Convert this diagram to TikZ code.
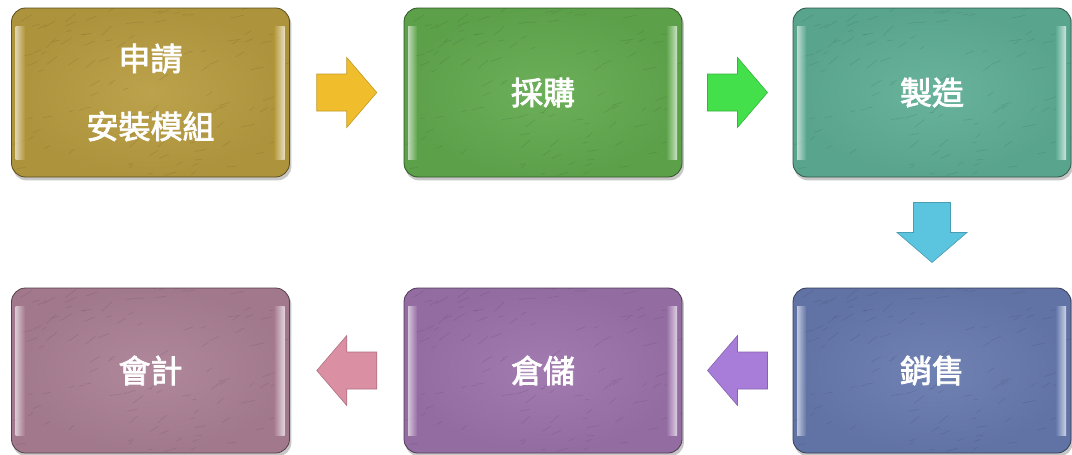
\documentclass[tikz,border=0pt]{standalone}
\usepackage{fontspec}
\newfontfamily\cjk[FakeBold=2.4]{Noto Sans CJK TC}
\usetikzlibrary{calc}
\pgfdeclarelayer{bg}
\pgfsetlayers{bg,main}
\definecolor{cA}{HTML}{B89C40}
\definecolor{cB}{HTML}{63AA4F}
\definecolor{cC}{HTML}{5FAE95}
\definecolor{cD}{HTML}{677AAE}
\definecolor{cE}{HTML}{9C73AB}
\definecolor{cF}{HTML}{AB8095}
\definecolor{aA}{HTML}{F0BE2C}
\definecolor{aB}{HTML}{44E04C}
\definecolor{aC}{HTML}{5BC4DE}
\definecolor{aD}{HTML}{A77DD9}
\definecolor{aE}{HTML}{DB8FA3}
\tikzset{
  procbox/.style={rectangle, rounded corners=14pt, minimum width=278pt,
    inner color=#1!94!white, outer color=#1!94!black, draw=#1!50!black, line width=0.8pt,
    text=white, font=\cjk\fontsize{32}{68}\selectfont, align=center, inner sep=0pt,
    path picture={
      \pgfmathsetseed{7}
      \foreach \k in {1,...,110}{
        \pgfmathsetmacro{\rx}{rnd*280}
        \pgfmathsetmacro{\ry}{rnd*170}
        \pgfmathsetmacro{\ra}{5+rnd*40}
        \pgfmathsetmacro{\rl}{4+rnd*10}
        \draw[#1!55!black, opacity=.22, line width=.6pt]
          ($(path picture bounding box.south west)+(\rx pt,\ry pt)$) -- ++(\ra:\rl pt);
      }
      \path[sharp corners, draw=none, left color=white, right color=#1, opacity=.6]
        ($(path picture bounding box.south west)+(4pt,18pt)$) rectangle
        ($(path picture bounding box.north west)+(13pt,-18pt)$);
      \path[sharp corners, draw=none, left color=#1, right color=#1!25!white, opacity=.9]
        ($(path picture bounding box.south east)+(-15pt,18pt)$) rectangle
        ($(path picture bounding box.north east)+(-5pt,-18pt)$);
    }},
  toprow/.style={minimum height=169pt},
  botrow/.style={minimum height=165pt},
  boxshadow/.style={fill=black, opacity=0.22, rounded corners=14pt},
  barrow/.pic={\path[pic actions] (-30,-18.5) -- (0,-18.5) -- (0,-35) -- (30,0) -- (0,35) -- (0,18.5) -- (-30,18.5) -- cycle;},
  arrowfill/.style={fill=#1, draw=#1!80!black, line width=0.6pt}
}
\begin{document}
\begin{tikzpicture}[x=1pt,y=-1pt]
\useasboundingbox (0,0) rectangle (1072,455);
\node[procbox=cA, toprow] (b1) at (150.5,92.5) {申請\\安裝模組};
\node[procbox=cB, toprow] (b2) at (543,92.5) {採購};
\node[procbox=cC, toprow] (b3) at (932,92.5) {製造};
\node[procbox=cD, botrow] (b4) at (932,370.5) {銷售};
\node[procbox=cE, botrow] (b5) at (543,370.5) {倉儲};
\node[procbox=cF, botrow] (b6) at (150.5,370.5) {會計};
\begin{pgfonlayer}{bg}
\foreach \b in {b1,b2,b3,b4,b5,b6}{
  \path[boxshadow] ($(\b.north west)+(1.5,3)$) rectangle ($(\b.south east)+(1.5,3)$);
}
\end{pgfonlayer}
\coordinate (m12) at ($(b1.east)!.5!(b2.west)$);
\coordinate (m23) at ($(b2.east)!.5!(b3.west)$);
\coordinate (m34) at ($(b3.south)!.5!(b4.north)$);
\coordinate (m45) at ($(b4.west)!.5!(b5.east)$);
\coordinate (m56) at ($(b5.west)!.5!(b6.east)$);
\pic[arrowfill=aA] at (m12) {barrow};
\pic[arrowfill=aB] at (m23) {barrow};
\pic[arrowfill=aC, rotate=-90] at (m34) {barrow};
\pic[arrowfill=aD, rotate=180] at (m45) {barrow};
\pic[arrowfill=aE, rotate=180] at (m56) {barrow};
\end{tikzpicture}
\end{document}
